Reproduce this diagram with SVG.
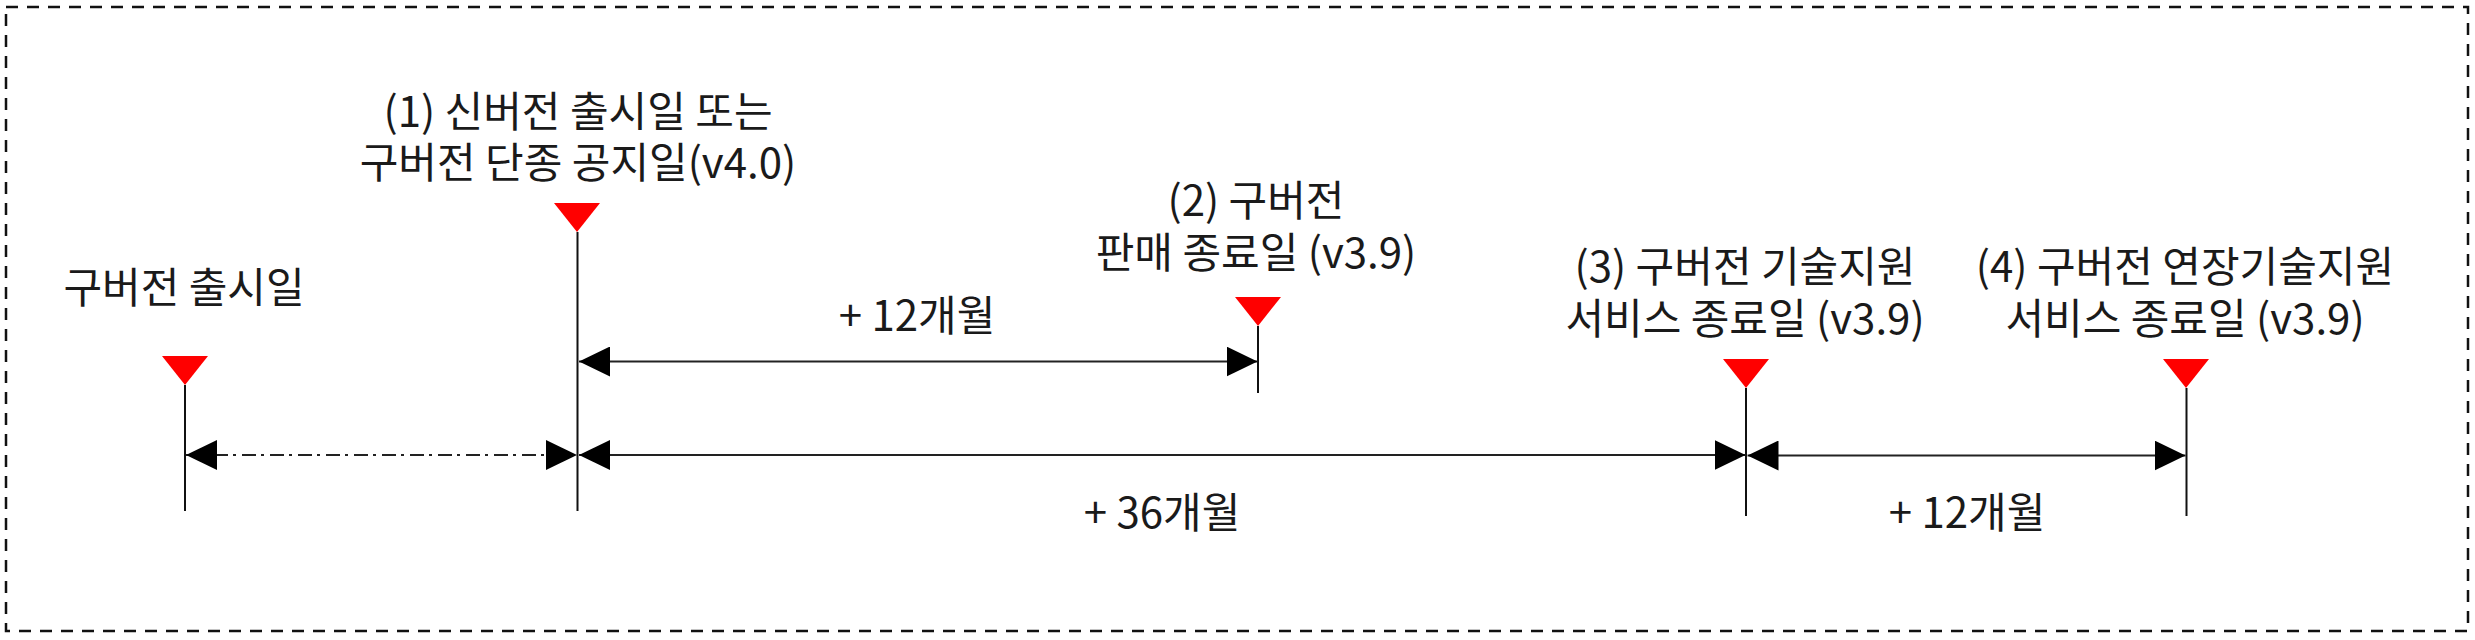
<svg xmlns="http://www.w3.org/2000/svg" width="2475" height="640" viewBox="0 0 2475 640">
  <style>
    .lbl { font-family: "Noto Sans CJK KR", "Noto Sans", sans-serif; font-size: 42px; fill: #1a1a1a; text-anchor: middle; }
    .tick { stroke: #111; stroke-width: 2; fill: none; }
    .flag { fill: #ff0000; stroke: none; }
    .span { stroke: #222; stroke-width: 2; fill: none; marker-start: url(#ah); marker-end: url(#ah); }
    .dashdot { stroke-dasharray: 14 5 3 6; }
  </style>
  <defs>
    <marker id="ah" markerUnits="userSpaceOnUse" markerWidth="31" markerHeight="30" viewBox="0 0 31 30" refX="31" refY="15" orient="auto-start-reverse">
      <path d="M0,0 L31,15 L0,30 Z" fill="#000"/>
    </marker>
  </defs>
  <rect x="6" y="7" width="2462" height="624" fill="none" stroke="#111" stroke-width="2.5" stroke-dasharray="12 9"/>

  <g id="m0">
    <text class="lbl" x="184" y="303">구버전 출시일</text>
    <polygon class="flag" points="162,356 208,356 185,385"/>
    <line class="tick" x1="185" y1="385" x2="185" y2="511"/>
  </g>
  <g id="m1">
    <text class="lbl" x="578" y="127">(1) 신버전 출시일 또는</text>
    <text class="lbl" x="578" y="178">구버전 단종 공지일(v4.0)</text>
    <polygon class="flag" points="554,203 600,203 577,232"/>
    <line class="tick" x1="577.5" y1="232" x2="577.5" y2="511"/>
  </g>
  <g id="m2">
    <text class="lbl" x="1256" y="216">(2) 구버전</text>
    <text class="lbl" x="1256" y="268">판매 종료일 (v3.9)</text>
    <polygon class="flag" points="1235,297 1281,297 1258,326"/>
    <line class="tick" x1="1258" y1="326" x2="1258" y2="393"/>
  </g>
  <g id="m3">
    <text class="lbl" x="1745" y="282">(3) 구버전 기술지원</text>
    <text class="lbl" x="1745" y="334">서비스 종료일 (v3.9)</text>
    <polygon class="flag" points="1723,359 1769,359 1746,388"/>
    <line class="tick" x1="1746" y1="388" x2="1746" y2="516"/>
  </g>
  <g id="m4">
    <text class="lbl" x="2185" y="282">(4) 구버전 연장기술지원</text>
    <text class="lbl" x="2185" y="334">서비스 종료일 (v3.9)</text>
    <polygon class="flag" points="2163,359 2209,359 2186,388"/>
    <line class="tick" x1="2186.5" y1="388" x2="2186.5" y2="516"/>
  </g>

  <g id="connectors">
    <line class="span dashdot" x1="186" y1="455" x2="577" y2="455"/>
    <line class="span" x1="579" y1="361.5" x2="1257.5" y2="361.5"/>
    <line class="span" x1="579" y1="455" x2="1745.5" y2="455"/>
    <line class="span" x1="1747.5" y1="455.5" x2="2185.5" y2="455.5"/>
  </g>

  <g id="durations">
    <text class="lbl" x="917" y="331">+ 12개월</text>
    <text class="lbl" x="1162" y="528">+ 36개월</text>
    <text class="lbl" x="1967" y="528">+ 12개월</text>
  </g>
</svg>
